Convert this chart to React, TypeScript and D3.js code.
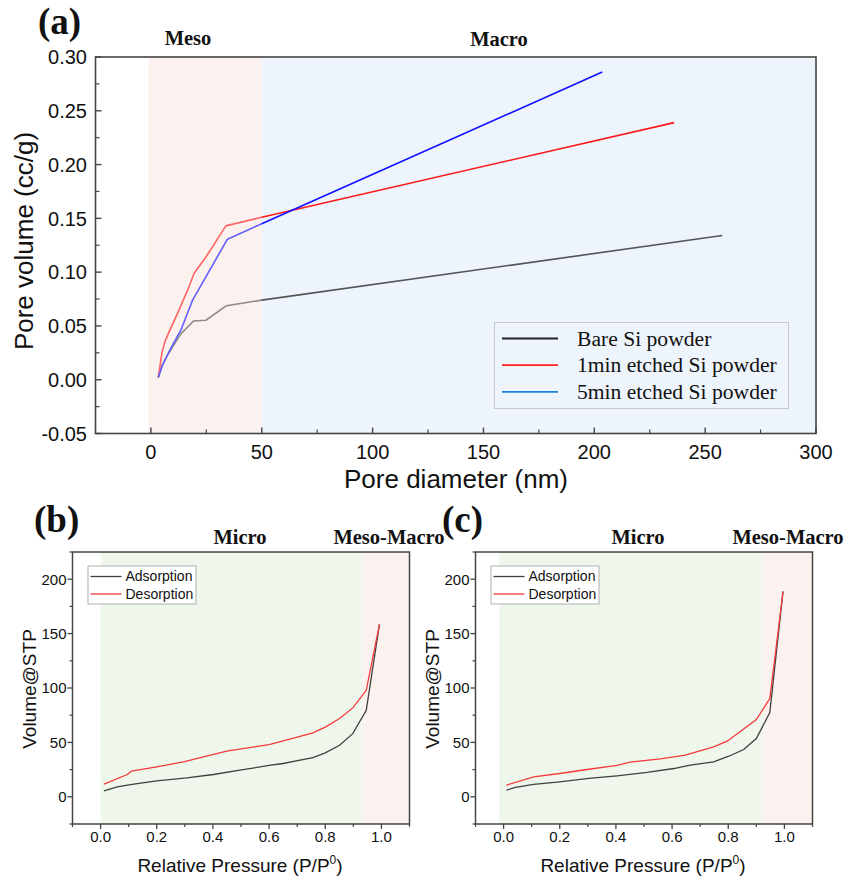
import React from "react";
import * as d3 from "d3";

// ---------- Panel (a): pore size distribution ----------
const diamBare = [3.3, 4.8, 7.5, 10.5, 13.5, 19.2, 24.8, 34.1, 50, 257.7];
const volBare = [0.002, 0.0123, 0.023, 0.033, 0.0426, 0.0546, 0.0553, 0.0688, 0.074, 0.134];
const diam1min = [3.3, 4.05, 4.95, 6.3, 8.25, 12.0, 16.5, 19.5, 24.8, 33.8, 50, 236];
const vol1min = [0.002, 0.0123, 0.0247, 0.0355, 0.0447, 0.0617, 0.083, 0.099, 0.114, 0.143, 0.151, 0.239];
const diam5min = [3.3, 5.3, 9.0, 13.5, 18.8, 34.5, 50, 203.6];
const vol5min = [0.002, 0.0139, 0.0293, 0.046, 0.074, 0.1306, 0.145, 0.286];
const seriesNamesA = ["Bare Si powder", "1min etched Si powder", "5min etched Si powder"];
const xTicksA = [0, 50, 100, 150, 200, 250, 300];
const yTicksA = [-0.05, 0, 0.05, 0.1, 0.15, 0.2, 0.25, 0.3];
const mesoRangeA = [-1, 50];
const macroRangeA = [50, 300];

// ---------- Panel (b): isotherm ----------
const presBAds = [0.012, 0.059, 0.118, 0.2, 0.307, 0.402, 0.496, 0.6, 0.65, 0.756, 0.8, 0.851, 0.898, 0.946, 0.993];
const volBAds = [5.5, 9.2, 11.6, 14.7, 17.4, 20.5, 24.5, 28.8, 30.6, 36, 40.4, 47.4, 58, 79.5, 158.4];
const presBDes = [0.012, 0.095, 0.11, 0.2, 0.295, 0.402, 0.449, 0.6, 0.674, 0.756, 0.8, 0.851, 0.898, 0.946, 0.993];
const volBDes = [11.6, 20.5, 23.6, 27.5, 32, 39, 42, 48, 53, 58.7, 64, 72, 81.7, 97.9, 158.4];
const microRangeB = [0, 0.934];
const mesoMacroRangeB = [0.934, 1.1];

// ---------- Panel (c): isotherm ----------
const presCAds = [0.01, 0.042, 0.107, 0.2, 0.303, 0.404, 0.511, 0.606, 0.665, 0.748, 0.802, 0.855, 0.9, 0.948, 0.995];
const volCAds = [6.1, 8.6, 11.4, 13.8, 16.9, 19.3, 22.4, 26, 29.1, 32.1, 37.3, 43.5, 53.6, 77.4, 188.7];
const presCDes = [0.01, 0.107, 0.2, 0.297, 0.404, 0.451, 0.558, 0.647, 0.748, 0.796, 0.849, 0.9, 0.948, 0.995];
const volCDes = [10.7, 18.3, 21.4, 25.1, 28.8, 31.8, 34.9, 38.3, 45.9, 51.1, 61.2, 71, 90.3, 188.7];
const microRangeC = [-0.015, 0.926];
const mesoMacroRangeC = [0.926, 1.1];

const isoNames = ["Adsorption", "Desorption"];
const xTicksIso = [0, 0.2, 0.4, 0.6, 0.8, 1.0];
const yTicksIso = [0, 50, 100, 150, 200];

const SANS = "'Liberation Sans', Arial, sans-serif";
const SERIF = "'Liberation Serif', 'Times New Roman', serif";
const AXIS = "#454545";

const zip = (xs: number[], ys: number[]) => xs.map((x, i) => [x, ys[i]] as [number, number]);

function PanelA() {
  const L = 95.5, R = 816, T = 57, B = 433.5;
  const x = d3.scaleLinear().domain([-25, 300]).range([L, R]);
  const y = d3.scaleLinear().domain([-0.05, 0.3]).range([B, T]);
  const line = d3.line<[number, number]>().x((d) => x(d[0])).y((d) => y(d[1]));
  const minorX = d3.range(-25, 301, 25).filter((v) => v % 50 !== 0);
  const minorY = d3.range(-0.025, 0.3, 0.05);
  const series = [
    { name: seriesNamesA[0], pts: zip(diamBare, volBare), color: "#555555", legend: "#222222" },
    { name: seriesNamesA[1], pts: zip(diam1min, vol1min), color: "#ff1a1a", legend: "#ff2020" },
    { name: seriesNamesA[2], pts: zip(diam5min, vol5min), color: "#1010ff", legend: "#1f80d8" },
  ];
  return (
    <g>
      <rect x={x(mesoRangeA[0])} y={T} width={x(mesoRangeA[1]) - x(mesoRangeA[0])} height={B - T} fill="#fbf2ee" />
      <rect x={x(macroRangeA[0])} y={T} width={x(macroRangeA[1]) - x(macroRangeA[0])} height={B - T} fill="#eef4fc" />
      {series.map((s, i) => (
        <path key={i} d={line(s.pts) || ""} fill="none" stroke={s.color} strokeWidth={1.6} strokeLinejoin="round" />
      ))}
      <rect x={x(mesoRangeA[0])} y={T} width={x(mesoRangeA[1]) - x(mesoRangeA[0])} height={B - T} fill="#fbf2ee" opacity={0.35} />
      {/* frame */}
      <rect x={L} y={T} width={R - L} height={B - T} fill="none" stroke={AXIS} strokeWidth={1.6} />
      {xTicksA.map((v) => (
        <g key={"xt" + v}>
          <line x1={x(v)} x2={x(v)} y1={B} y2={B - 6} stroke={AXIS} strokeWidth={1.4} />
          <text x={x(v)} y={459} textAnchor="middle" fontFamily={SANS} fontSize={20} fill="#111">{v}</text>
        </g>
      ))}
      {minorX.map((v) => (
        <line key={"xm" + v} x1={x(v)} x2={x(v)} y1={B} y2={B - 4} stroke={AXIS} strokeWidth={1.2} />
      ))}
      {yTicksA.map((v) => (
        <g key={"yt" + v}>
          <line x1={L} x2={L + 6} y1={y(v)} y2={y(v)} stroke={AXIS} strokeWidth={1.4} />
          <text x={87} y={y(v)} dy="0.36em" textAnchor="end" fontFamily={SANS} fontSize={20} fill="#111">{v.toFixed(2)}</text>
        </g>
      ))}
      {minorY.map((v, i) => (
        <line key={"ym" + i} x1={L} x2={L + 4} y1={y(v)} y2={y(v)} stroke={AXIS} strokeWidth={1.2} />
      ))}
      <text x={456} y={488} textAnchor="middle" fontFamily={SANS} fontSize={26} fill="#111">Pore diameter (nm)</text>
      <text transform={`translate(33,${241}) rotate(-90)`} textAnchor="middle" fontFamily={SANS} fontSize={26} fill="#111">Pore volume (cc/g)</text>
      <text x={38} y={34} fontFamily={SERIF} fontWeight="bold" fontSize={37} fill="#111">(a)</text>
      <text x={188} y={45} textAnchor="middle" fontFamily={SERIF} fontWeight="bold" fontSize={20.5} fill="#111">Meso</text>
      <text x={499} y={46} textAnchor="middle" fontFamily={SERIF} fontWeight="bold" fontSize={20.5} fill="#111">Macro</text>
      {/* legend */}
      <rect x={494.5} y={322.5} width={294} height={86} fill="#eef4fc" stroke="#c8c8c8" strokeWidth={1} />
      {series.map((s, i) => (
        <g key={"lg" + i}>
          <line x1={502} x2={558} y1={338.5 + i * 26.7} y2={338.5 + i * 26.7} stroke={s.legend} strokeWidth={1.8} />
          <text x={577} y={338.5 + i * 26.7} dy="0.33em" fontFamily={SERIF} fontSize={21.6} fill="#111">{s.name}</text>
        </g>
      ))}
    </g>
  );
}

function IsoPanel(props: {
  L: number; R: number; label: string; labelX: number; microX: number; mmX: number;
  ads: [number, number][]; des: [number, number][]; micro: number[]; mesoMacro: number[];
}) {
  const { L, R, label, labelX, microX, mmX, ads, des, micro, mesoMacro } = props;
  const T = 552, B = 824;
  const x = d3.scaleLinear().domain([-0.1, 1.1]).range([L, R]);
  const y = d3.scaleLinear().domain([-25, 225]).range([B, T]);
  const line = d3.line<[number, number]>().x((d) => x(d[0])).y((d) => y(d[1]));
  const minorX = d3.range(-0.1, 1.1, 0.2).map((v) => +v.toFixed(2));
  const minorY = d3.range(-25, 226, 50);
  const cx = (L + R) / 2 - 1;
  return (
    <g>
      <rect x={x(micro[0])} y={T} width={x(micro[1]) - x(micro[0])} height={B - T} fill="#eff7ec" />
      <rect x={x(mesoMacro[0])} y={T} width={x(mesoMacro[1]) - x(mesoMacro[0])} height={B - T} fill="#fbf1ee" />
      <path d={line(ads) || ""} fill="none" stroke="#404040" strokeWidth={1.3} />
      <path d={line(des) || ""} fill="none" stroke="#f53a3a" strokeWidth={1.3} />
      <rect x={L} y={T} width={R - L} height={B - T} fill="none" stroke={AXIS} strokeWidth={1.5} />
      {xTicksIso.map((v) => (
        <g key={"xt" + v}>
          <line x1={x(v)} x2={x(v)} y1={B} y2={B + 5} stroke={AXIS} strokeWidth={1.3} />
          <text x={x(v)} y={842} textAnchor="middle" fontFamily={SANS} fontSize={15} fill="#111">{v.toFixed(1)}</text>
        </g>
      ))}
      {minorX.map((v) => (
        <line key={"xm" + v} x1={x(v)} x2={x(v)} y1={B} y2={B + 3} stroke={AXIS} strokeWidth={1.2} />
      ))}
      {yTicksIso.map((v) => (
        <g key={"yt" + v}>
          <line x1={L} x2={L - 5} y1={y(v)} y2={y(v)} stroke={AXIS} strokeWidth={1.3} />
          <text x={L - 6} y={y(v)} dy="0.36em" textAnchor="end" fontFamily={SANS} fontSize={15} fill="#111">{v}</text>
        </g>
      ))}
      {minorY.map((v) => (
        <line key={"ym" + v} x1={L} x2={L - 3} y1={y(v)} y2={y(v)} stroke={AXIS} strokeWidth={1.2} />
      ))}
      <text x={cx} y={872} textAnchor="middle" fontFamily={SANS} fontSize={19} fill="#111">
        Relative Pressure (P/P<tspan dy={-8} fontSize={12}>0</tspan><tspan dy={8}>)</tspan>
      </text>
      <text transform={`translate(${L - 37},${689}) rotate(-90)`} textAnchor="middle" fontFamily={SANS} fontSize={19} fill="#111">Volume@STP</text>
      <text x={labelX} y={532} fontFamily={SERIF} fontWeight="bold" fontSize={37} fill="#111">{label}</text>
      <text x={microX} y={544} textAnchor="middle" fontFamily={SERIF} fontWeight="bold" fontSize={20.5} fill="#111">Micro</text>
      <text x={mmX} y={544} textAnchor="middle" fontFamily={SERIF} fontWeight="bold" fontSize={20.5} fill="#111">Meso-Macro</text>
      {/* legend */}
      <rect x={L + 15.5} y={566} width={108} height={38} fill="#ffffff" stroke="#b0b0b0" strokeWidth={1} />
      {isoNames.map((n, i) => (
        <g key={n}>
          <line x1={L + 18} x2={L + 49} y1={576.5 + i * 17.5} y2={576.5 + i * 17.5} stroke={i === 0 ? "#404040" : "#f53a3a"} strokeWidth={1.3} />
          <text x={L + 53} y={576.5 + i * 17.5} dy="0.35em" fontFamily={SANS} fontSize={14} fill="#111">{n}</text>
        </g>
      ))}
    </g>
  );
}

export default function App() {
  return (
    <svg width={849} height={878} style={{ position: "absolute", left: 0, top: 0, background: "#fff" }}>
      <rect width={849} height={878} fill="#fff" />
      <PanelA />
      <IsoPanel L={72.5} R={409.5} label="(b)" labelX={34} microX={240} mmX={389}
        ads={zip(presBAds, volBAds)} des={zip(presBDes, volBDes)} micro={microRangeB} mesoMacro={mesoMacroRangeB} />
      <IsoPanel L={475.5} R={812.5} label="(c)" labelX={442} microX={638} mmX={788}
        ads={zip(presCAds, volCAds)} des={zip(presCDes, volCDes)} micro={microRangeC} mesoMacro={mesoMacroRangeC} />
    </svg>
  );
}
